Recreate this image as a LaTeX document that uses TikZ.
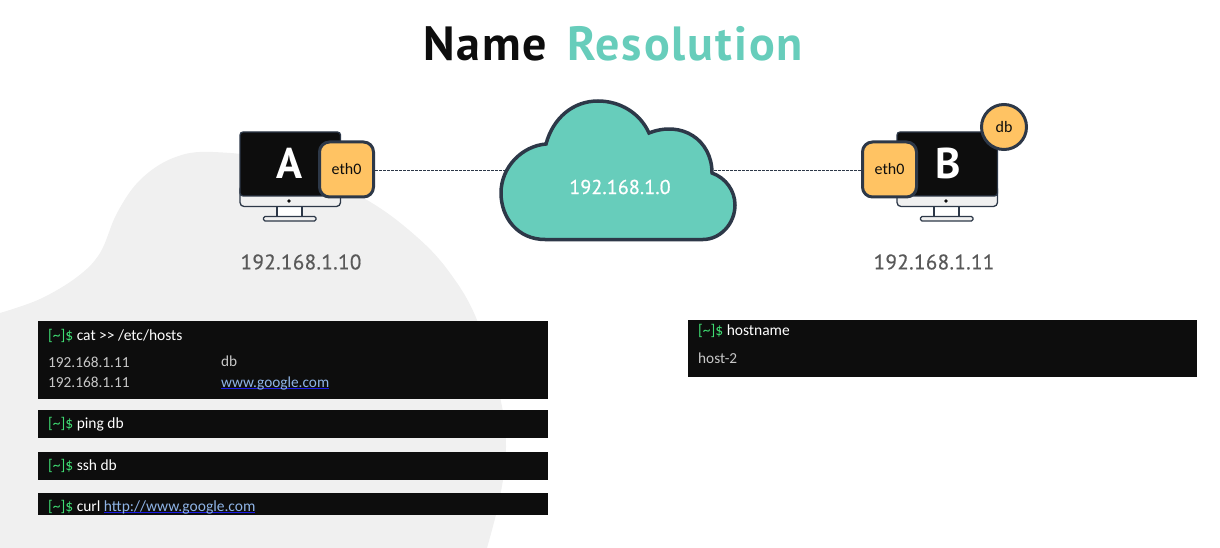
\documentclass[tikz,border=0pt]{standalone}
\usepackage{fontspec}
\usepackage{tikz}
\setmainfont{Carlito}
\newfontfamily\headfont{PT Sans}
\definecolor{slateline}{HTML}{2D3848}
\definecolor{termblack}{HTML}{0D0D0D}
\definecolor{tealfill}{HTML}{67CDBB}
\definecolor{orangefill}{HTML}{FFC363}
\definecolor{blobgray}{HTML}{F0F0F0}
\definecolor{promptgreen}{HTML}{3FDC72}
\definecolor{linkblue}{HTML}{8FB4E6}
\definecolor{underblue}{HTML}{1A1AE6}
\def\prompt{\textcolor{promptgreen}{[\textasciitilde]\$} }
\newcommand\weblink[1]{\setbox0\hbox{#1}\rlap{\color{underblue}\rule[-2pt]{\wd0}{.6pt}}\textcolor{linkblue}{#1}}
\newcommand\screen[1]{
	\begin{scope}[xshift=#1]
	\draw[slateline, line width=1.3pt, fill=white] (277.0pt, -205.0pt) rectangle (302.0pt, -217.0pt);
	\draw[slateline, line width=1.3pt, fill=blobgray, rounded corners=1.5pt] (263.5pt, -216.5pt) rectangle (316.0pt, -221.0pt);
	\draw[slateline, line width=1.3pt, fill=blobgray, rounded corners=4pt] (240.0pt, -185.0pt) rectangle (340.5pt, -206.5pt);
	\draw[slateline, line width=1.3pt, fill=termblack, rounded corners=3pt] (240.0pt, -132.0pt) -- (340.5pt, -132.0pt) -- (340.5pt, -196.0pt) -- (240.0pt, -196.0pt) -- cycle;
	\fill[termblack] (289.0pt, -201.0pt) circle (1.8pt);
	\end{scope}
}
\begin{document}
\begin{tikzpicture}[x=1pt, y=1pt,
	ifacebox/.style={draw=slateline, line width=3pt, fill=orangefill, rounded corners=10pt, minimum width=54pt, minimum height=55pt, inner sep=0pt, font=\fontsize{16}{18}\selectfont, text=termblack},
	hostletter/.style={inner sep=0pt, text=white, font=\headfont\bfseries\fontsize{43}{46}\selectfont},
	ipcaption/.style={inner sep=0pt, text=black!65, font=\headfont\fontsize{21}{24}\selectfont\addfontfeature{LetterSpace=1.8, FakeBold=0.6}},
	termbox/.style={fill=termblack, inner sep=0pt},
	termtext/.style={inner sep=0pt, anchor=base west, text=white, font=\fontsize{15.5}{18}\selectfont},
	termout/.style={termtext, text=black!22, font=\fontsize{15.3}{18}\selectfont},
	titletext/.style={inner sep=0pt, anchor=base west, font=\headfont\bfseries\fontsize{48}{50}\selectfont\addfontfeature{LetterSpace=4}},
	link/.style={slateline, line width=.8pt, dash pattern=on 3pt off 1pt}]
	\useasboundingbox (0.0pt, 0.0pt) rectangle (1220.0pt, -548.0pt);
	% backdrop
	\fill[blobgray] plot[smooth, tension=.6] coordinates {(0.0pt, -313.0pt) (40.0pt, -299.0pt) (77.0pt, -277.0pt) (100.0pt, -253.0pt) (117.0pt, -213.0pt) (140.0pt, -180.0pt) (173.0pt, -158.0pt) (213.0pt, -152.0pt) (290.0pt, -163.0pt) (367.0pt, -200.0pt) (417.0pt, -237.0pt) (450.0pt, -273.0pt) (477.0pt, -320.0pt) (500.0pt, -397.0pt) (506.0pt, -447.0pt) (500.0pt, -497.0pt) (487.0pt, -548.0pt)} -- (0.0pt, -548.0pt) -- cycle;
	% title
	\draw (423.0pt, -61.0pt)node[titletext, text=termblack](titlename){Name};
	\draw (567.0pt, -61.0pt)node[titletext, text=tealfill](titleres){Resolution};
	% hosts
	\screen{0pt}
	\screen{657pt}
	\draw (290.0pt, -163.0pt)node[hostletter](nameA){A};
	\draw (948.0pt, -163.0pt)node[hostletter](nameB){B};
	\draw (346.5pt, -169.5pt)node[ifacebox](ethA){eth0};
	\draw (889.5pt, -169.5pt)node[ifacebox](ethB){eth0};
	\draw (1004.0pt, -127.0pt)node[circle, draw=slateline, line width=3pt, fill=orangefill, minimum size=45pt, inner sep=0pt, font=\fontsize{16}{18}\selectfont, text=termblack](db){db};
	\draw (301.0pt, -262.0pt)node[ipcaption](ipA){192.168.1.10};
	\draw (934.0pt, -262.0pt)node[ipcaption](ipB){192.168.1.11};
	% network
	\coordinate (cloudL) at (510.0pt, -170.0pt);
	\coordinate (cloudR) at (705.0pt, -170.0pt);
	\path[link] (ethA.east |- cloudL) edge (cloudL);
	\path[link] (ethB.west |- cloudR) edge (cloudR);
	\draw[slateline, line width=3.5pt, fill=tealfill] (545.0pt, -239.5pt) .. controls (518.0pt, -239.5pt) and (501.0pt, -218.0pt) .. (501.0pt, -193.0pt) .. controls (501.0pt, -167.0pt) and (522.0pt, -146.0pt) .. (546.0pt, -144.0pt) .. controls (553.0pt, -118.0pt) and (573.0pt, -101.0pt) .. (598.0pt, -101.0pt) .. controls (620.0pt, -101.0pt) and (640.0pt, -113.0pt) .. (649.0pt, -133.0pt) .. controls (682.0pt, -120.0pt) and (712.0pt, -140.0pt) .. (712.0pt, -173.0pt) .. controls (726.0pt, -178.0pt) and (735.0pt, -191.0pt) .. (735.0pt, -205.0pt) .. controls (735.0pt, -224.0pt) and (720.0pt, -239.5pt) .. (703.0pt, -239.5pt) -- cycle;
	\draw (620.0pt, -187.0pt)node[inner sep=0pt, text=white, font=\headfont\fontsize{20}{24}\selectfont\addfontfeature{LetterSpace=.6, FakeBold=0.8}](cloud){192.168.1.0};
	% terminals
	\draw (293.0pt, -360.0pt)node[termbox, minimum width=510pt, minimum height=78pt](hosts){};
	\draw (293.0pt, -424.0pt)node[termbox, minimum width=510pt, minimum height=28pt](ping){};
	\draw (293.0pt, -466.0pt)node[termbox, minimum width=510pt, minimum height=28pt](ssh){};
	\draw (293.0pt, -504.0pt)node[termbox, minimum width=510pt, minimum height=22pt](curl){};
	\draw (942.5pt, -348.5pt)node[termbox, minimum width=509pt, minimum height=57pt](hostname){};
	\draw (48.0pt, -340.0pt)node[termtext](cmdcat){\prompt cat >{}> /etc/hosts};
	\draw (48.0pt, -367.7pt)node[termout](ipone){192.168.1.11};
	\draw (48.0pt, -387.7pt)node[termout](iptwo){192.168.1.11};
	\draw (221.0pt, -366.0pt)node[termout](aliasdb){db};
	\draw (221.0pt, -387.0pt)node[termout](aliasweb){\weblink{www.google.com}};
	\draw (48.0pt, -428.0pt)node[termtext](cmdping){\prompt ping db};
	\draw (48.0pt, -470.0pt)node[termtext](cmdssh){\prompt ssh db};
	\draw (48.0pt, -511.0pt)node[termtext](cmdcurl){\prompt curl \weblink{http://www.google.com}};
	\draw (698.0pt, -335.0pt)node[termtext](cmdhost){\prompt hostname};
	\draw (698.0pt, -363.0pt)node[termout](hostout){host-2};
\end{tikzpicture}
\end{document}
